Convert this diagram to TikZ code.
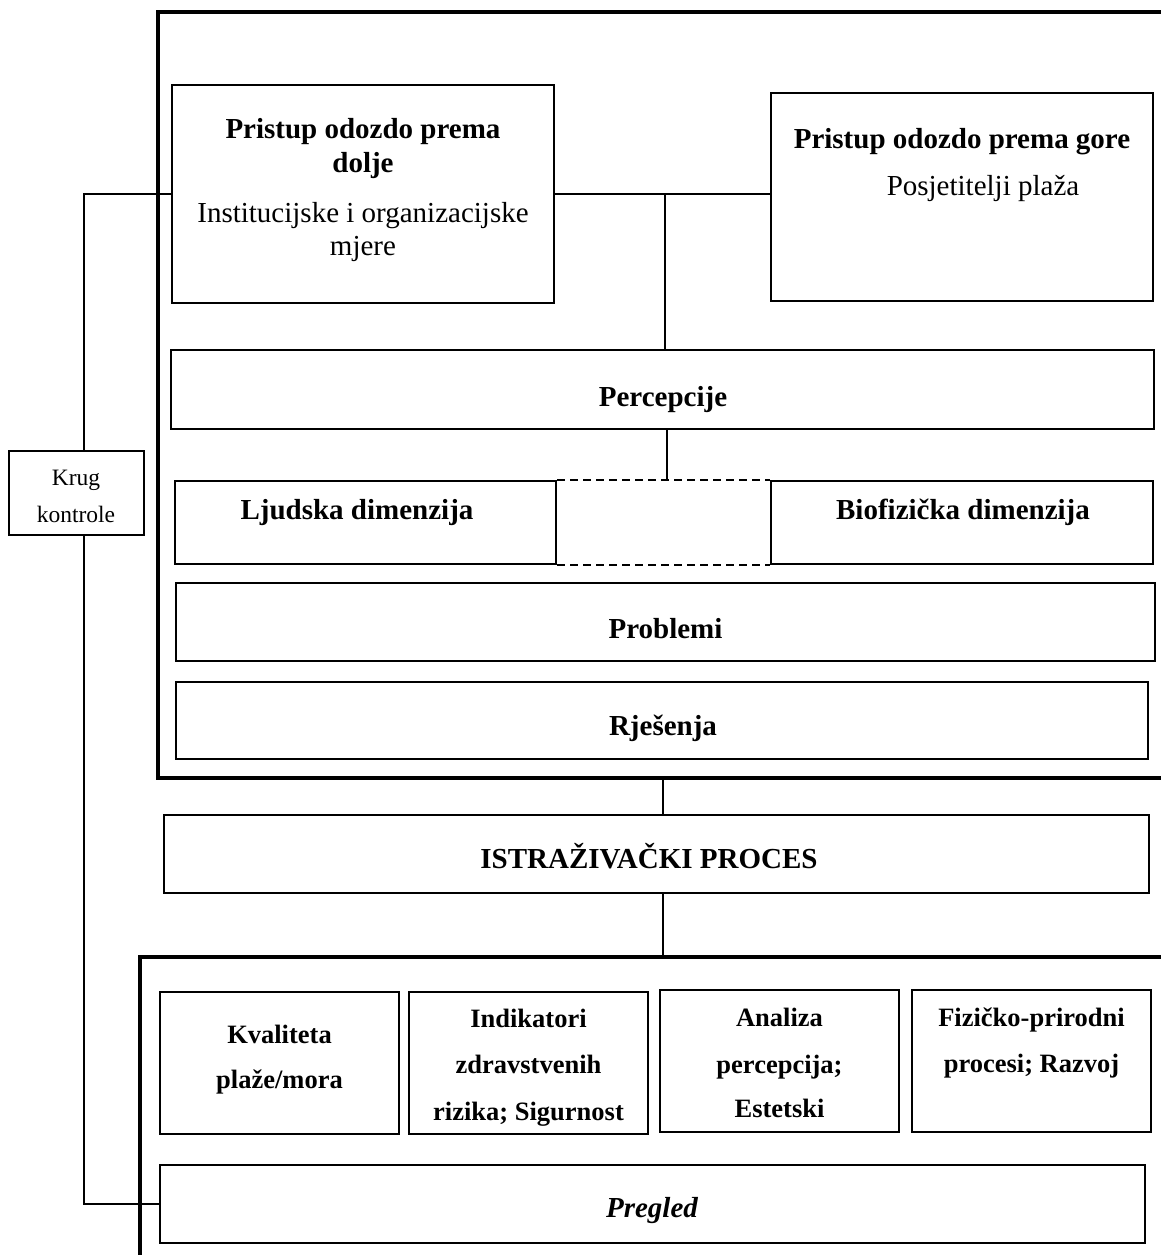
\documentclass[tikz,border=0pt]{standalone}
\usepackage{fontspec}
\setmainfont{Liberation Serif}
\begin{document}
\begin{tikzpicture}[x=1pt,y=-1pt,
 box/.style={draw, line width=2pt, inner sep=0pt, rectangle},
 frameline/.style={line width=4pt},
 link/.style={line width=1.2pt},
 linkb/.style={line width=2pt},
 dashline/.style={line width=2pt, dash pattern=on 8pt off 5pt},
 tb/.style={font=\fontsize{29}{34}\selectfont\bfseries, anchor=base, inner sep=0pt},
 tr/.style={font=\fontsize{29}{34}\selectfont, anchor=base, inner sep=0pt},
 ti/.style={font=\fontsize{29}{34}\selectfont\bfseries\itshape, anchor=base, inner sep=0pt},
 sb/.style={font=\fontsize{26.5}{32}\selectfont\bfseries, anchor=base, inner sep=0pt},
 ks/.style={font=\fontsize{23.5}{28}\selectfont, anchor=base, inner sep=0pt}]
\useasboundingbox (0,0) rectangle (1161,1255);
% frames
\draw[frameline] (1180,12) -- (158,12) -- (158,778) -- (1180,778);
\draw[frameline] (1180,957) -- (140,957) -- (140,1275);
% upper boxes
\node[box, minimum width=382pt, minimum height=218pt] (tl) at (363,194) {};
\node[box, minimum width=382pt, minimum height=208pt] (tr) at (962,197) {};
\node[box, minimum width=983pt, minimum height=79pt] (perc) at (662.5,389.5) {};
\node[box, minimum width=381.5pt, minimum height=83pt] (ljud) at (365.25,522.5) {};
\node[box, minimum width=382pt, minimum height=83pt] (bio) at (962,522.5) {};
\node[box, minimum width=979pt, minimum height=78pt] (prob) at (665.5,622) {};
\node[box, minimum width=972pt, minimum height=77pt] (rje) at (662,720.5) {};
\node[box, minimum width=985pt, minimum height=78pt] (istr) at (656.5,854) {};
\node[box, minimum width=135pt, minimum height=84pt] (krug) at (76.5,493) {};
% lower boxes
\node[box, minimum width=239pt, minimum height=142pt] (kv) at (279.5,1063) {};
\node[box, minimum width=239pt, minimum height=142pt] (ind) at (528.5,1063) {};
\node[box, minimum width=239pt, minimum height=142pt] (an) at (779.5,1061) {};
\node[box, minimum width=239pt, minimum height=142pt] (fiz) at (1031.5,1061) {};
\node[box, minimum width=985pt, minimum height=78pt] (preg) at (652.5,1204) {};
% texts
\node[tb] (tl1) at (363,138) {Pristup odozdo prema};
\node[tb] (tl2) at (363,172) {dolje};
\node[tr] (tl3) at (363,222) {Institucijske i organizacijske};
\node[tr] (tl4) at (363,255) {mjere};
\node[tb] (tr1) at (962,148) {Pristup odozdo prema gore};
\node[tr] (tr2) at (983,195) {Posjetitelji plaža};
\node[tb] (perct) at (663,406) {Percepcije};
\node[tb] (ljudt) at (357,519) {Ljudska dimenzija};
\node[tb] (biot) at (963,519) {Biofizička dimenzija};
\node[tb] (probt) at (665.5,638) {Problemi};
\node[tb] (rjet) at (663,735) {Rješenja};
\node[tb] (istrt) at (649,868) {ISTRAŽIVAČKI PROCES};
\node[ks] (krug1) at (76,485) {Krug};
\node[ks] (krug2) at (76,522) {kontrole};
\node[sb] (kv1) at (279.5,1043) {Kvaliteta};
\node[sb] (kv2) at (279.5,1088) {plaže/mora};
\node[sb] (ind1) at (528.5,1027) {Indikatori};
\node[sb] (ind2) at (528.5,1073) {zdravstvenih};
\node[sb] (ind3) at (528.5,1120) {rizika; Sigurnost};
\node[sb] (an1) at (779.5,1026) {Analiza};
\node[sb] (an2) at (779.5,1073) {percepcija;};
\node[sb] (an3) at (779.5,1117) {Estetski};
\node[sb] (fiz1) at (1031.5,1026) {Fizičko-prirodni};
\node[sb] (fiz2) at (1031.5,1072) {procesi; Razvoj};
\node[ti] (pregt) at (652,1217) {Pregled};
% connectors
\coordinate (kc) at (84,194);
\coordinate (j1) at (665,194);
\coordinate (j2) at (667,481);
\coordinate (ft) at (663,778);
\coordinate (fb) at (663,957);
\draw[link] (tl.west) -- (kc) -- (kc |- krug.north);
\draw[link] (kc |- krug.south) -- (kc |- preg.west) -- (preg.west);
\draw[link] (tl.east) -- (tl.east -| tr.west);
\draw[link] (j1) -- (j1 |- perc.north);
\draw[link] (j2 |- perc.south) -- (j2);
\draw[dashline] (ljud.north east) -- (bio.north west);
\draw[dashline] (ljud.south east) -- (bio.south west);
\draw[linkb] (ft) -- (ft |- istr.north);
\draw[linkb] (fb |- istr.south) -- (fb);
\end{tikzpicture}
\end{document}
